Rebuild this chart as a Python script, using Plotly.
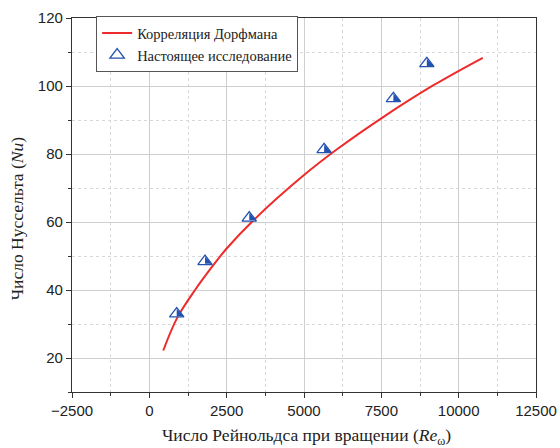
import plotly.graph_objects as go

# Dorfman correlation curve (Re_omega, Nu)
corr_re = [450, 900, 1500, 2000, 2500, 3400, 5000, 6100, 7500, 9200, 10780]
corr_nu = [22.2, 31.8, 40.3, 46.5, 52.2, 60.8, 73.8, 81.6, 90.5, 100.3, 108.3]

# Present study measurements
study_re = [885, 1800, 3230, 5650, 7890, 8970]
study_nu = [33.0, 48.4, 61.2, 81.3, 96.3, 106.6]

x_ticks = [-2500, 0, 2500, 5000, 7500, 10000, 12500]
y_ticks = [20, 40, 60, 80, 100, 120]

RED = "#ee2b2b"
BLUE = "#2352b0"
SERIF = "Liberation Serif"
SANS = "Liberation Sans"

fig = go.Figure()

fig.add_trace(go.Scatter(
    x=corr_re, y=corr_nu, mode="lines",
    name="Корреляция Дорфмана",
    line=dict(color=RED, width=2, shape="spline"),
))

# half-filled triangles: white triangle with blue outline ...
fig.add_trace(go.Scatter(
    x=study_re, y=study_nu, mode="markers",
    name="Настоящее исследование",
    marker=dict(symbol="triangle-up", size=12.5, color="white",
                line=dict(color=BLUE, width=1.3)),
))
# ... with its right half filled
fig.add_trace(go.Scatter(
    x=study_re, y=study_nu, mode="markers",
    showlegend=False, hoverinfo="skip",
    marker=dict(symbol="triangle-nw", size=8, color=BLUE, angle=-90,
                standoff=2.4, line=dict(width=0)),
))

axis_common = dict(
    showline=True, linecolor="#333333", linewidth=1.3, mirror=True,
    ticks="outside", ticklen=5, tickwidth=1.2, tickcolor="#333333",
    showgrid=True, gridcolor="#cfcfcf", gridwidth=1,
    zeroline=False, automargin=False,
    tickfont=dict(family=SANS, size=15, color="#222222"),
)

fig.update_xaxes(
    range=[-2500, 12500], tickmode="array", tickvals=x_ticks,
    ticktext=[f"{v}".replace("-", "\u2212") for v in x_ticks],
    minor=dict(dtick=1250, tick0=-2500, ticks="outside", ticklen=3,
               tickcolor="#333333", showgrid=True, gridcolor="#d8d8d8",
               griddash="dot"),
    **axis_common,
)
fig.update_yaxes(
    range=[10, 120], tickmode="array", tickvals=y_ticks,
    minor=dict(dtick=10, tick0=0, ticks="outside", ticklen=3,
               tickcolor="#333333", showgrid=True, gridcolor="#d8d8d8",
               griddash="dot"),
    **axis_common,
)

# axis titles
fig.add_annotation(
    text="Число Рейнольдса при вращении (<i>Re</i><sub>ω</sub>)",
    xref="paper", yref="paper", x=0.505, y=-0.12,
    xanchor="center", yanchor="middle", showarrow=False,
    font=dict(family=SERIF, size=17.5, color="#222222"),
)
fig.add_annotation(
    text="Число Нуссельта (<i>Nu</i>)", textangle=-90,
    xref="paper", yref="paper", x=-0.118, y=0.465,
    xanchor="center", yanchor="middle", showarrow=False,
    font=dict(family=SERIF, size=17.5, color="#222222"),
)

fig.update_layout(
    width=560, height=448,
    margin=dict(l=72, r=24, t=18, b=56),
    paper_bgcolor="white", plot_bgcolor="white",
    legend=dict(
        x=0.052, y=1.005, xanchor="left", yanchor="top",
        bgcolor="white", bordercolor="#555555", borderwidth=1,
        font=dict(family=SERIF, size=14.5, color="#222222"),
        tracegroupgap=0, itemwidth=30,
    ),
)

fig.write_html("out.html")
